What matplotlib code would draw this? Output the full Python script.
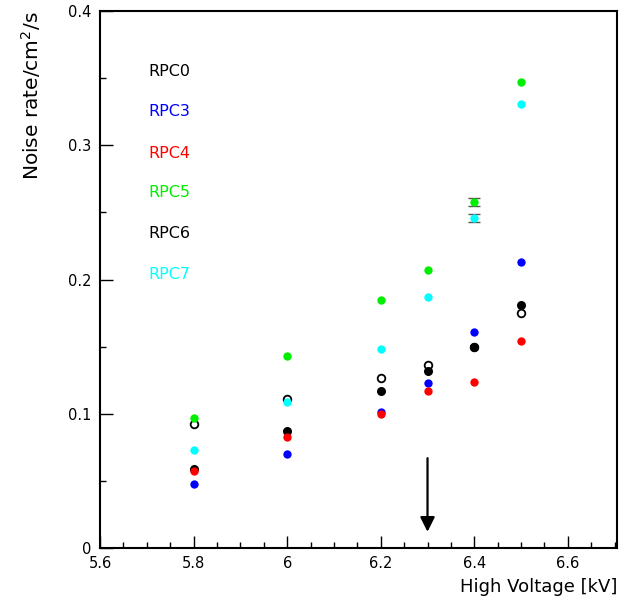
import matplotlib
matplotlib.use("Agg")
import matplotlib.pyplot as plt
from matplotlib.ticker import MultipleLocator

# High voltage points [kV]
hv = [5.8, 6.0, 6.2, 6.3, 6.4, 6.5]

# Noise rate per chamber [Hz/cm^2]
rpc0 = [0.059, 0.087, 0.117, 0.132, 0.150, 0.181]
rpc3 = [0.048, 0.070, 0.101, 0.123, 0.161, 0.213]
rpc4 = [0.057, 0.083, 0.100, 0.117, 0.124, 0.154]
rpc5 = [0.097, 0.143, 0.185, 0.207, 0.258, 0.347]
rpc6 = [0.092, 0.111, 0.127, 0.136, 0.150, 0.175]
rpc7 = [0.073, 0.109, 0.148, 0.187, 0.246, 0.331]

# small errors visible only at 6.4 kV
err5 = [0, 0, 0, 0, 0.003, 0]
err7 = [0, 0, 0, 0, 0.003, 0]

names = ["RPC0", "RPC3", "RPC4", "RPC5", "RPC6", "RPC7"]
colors = ["black", "#0000ff", "#ff0000", "#00ee00", "black", "#00ffff"]

fig = plt.figure(figsize=(6.19, 6.03), dpi=100)
ax = fig.add_axes([100 / 619, 55 / 603, 517 / 619, 537 / 603])

# error bars only where they are non-zero
for vals, errs in [(rpc5, err5), (rpc7, err7)]:
    for x, v, e in zip(hv, vals, errs):
        if e > 0:
            ax.errorbar([x], [v], yerr=[e], fmt="none", ecolor="#555555",
                        elinewidth=1, capsize=4)

ax.plot(hv, rpc6, "o", mfc="white", mec="black", ms=5.5, mew=1.3)
ax.plot(hv, rpc0, "o", color="black", ms=6.5, mec="none")
ax.plot(hv, rpc3, "o", color="#0000ff", ms=6, mec="none")
ax.plot(hv, rpc4, "o", color="#ff0000", ms=6, mec="none")
ax.plot(hv, rpc5, "o", color="#00ee00", ms=6, mec="none")
ax.plot(hv, rpc7, "o", color="#00ffff", ms=6, mec="none")

# legend written as coloured labels
label_y = [0.355, 0.325, 0.294, 0.265, 0.234, 0.204]
for name, c, yy in zip(names, colors, label_y):
    ax.text(5.703, yy, name, color=c, fontsize=11.5, va="center", ha="left")

# arrow marking the working point
ax.annotate("", xy=(6.3, 0.010), xytext=(6.3, 0.069),
            arrowprops=dict(arrowstyle="-|>", color="black", lw=1.6,
                            mutation_scale=22))

ax.set_xlim(5.6, 6.705)
ax.set_ylim(0, 0.4)
ax.xaxis.set_minor_locator(MultipleLocator(0.05))
ax.yaxis.set_minor_locator(MultipleLocator(0.05))
ax.set_xticks([5.6, 5.8, 6.0, 6.2, 6.4, 6.6], ["5.6", "5.8", "6", "6.2", "6.4", "6.6"])
ax.set_yticks([0, 0.1, 0.2, 0.3, 0.4], ["0", "0.1", "0.2", "0.3", "0.4"])
ax.tick_params(which="both", direction="in", top=False, right=False)
ax.tick_params(which="major", length=9, width=1, labelsize=10.5, pad=6)
ax.tick_params(which="minor", length=4.5, width=1)
for s in ax.spines.values():
    s.set_linewidth(1.5)

ax.set_xlabel("High Voltage [kV]", fontsize=13, loc="right", labelpad=5)
ax.set_ylabel("Noise rate/cm$^2$/s", fontsize=14.5, loc="top", labelpad=18)

fig.savefig("out.png", dpi=100)
